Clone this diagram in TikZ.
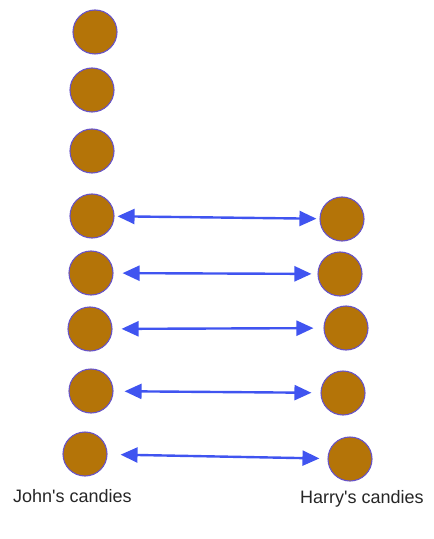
\documentclass[tikz,border=0pt]{standalone}
\usepackage{fontspec}
\setmainfont{Liberation Sans}
\usetikzlibrary{arrows.meta}
\definecolor{candyfill}{RGB}{180,116,8}
\definecolor{candyedge}{RGB}{104,84,200}
\definecolor{linkblue}{RGB}{64,84,240}
\tikzset{
  candy/.style={circle, fill=candyfill, draw=candyedge, line width=1.1bp,
    minimum size=44bp, inner sep=0pt},
  link/.style={draw=linkblue, line width=2.4bp,
    {Triangle[length=17bp,width=15bp]}-{Triangle[length=17bp,width=15bp]}},
  caption/.style={font=\fontsize{18bp}{20bp}\selectfont, text=black!85, inner sep=0pt}
}
\begin{document}
\begin{tikzpicture}[x=1bp, y=-1bp]
\useasboundingbox (0,0) rectangle (434,539);
% John's column
\node[candy] (l1) at (95,32) {};
\node[candy] (l2) at (92,90) {};
\node[candy] (l3) at (92,151) {};
\node[candy] (l4) at (92,216) {};
\node[candy] (l5) at (91,273) {};
\node[candy] (l6) at (90,329) {};
\node[candy] (l7) at (91,391) {};
\node[candy] (l8) at (85,454) {};
% Harry's column
\node[candy] (r4) at (342,219) {};
\node[candy] (r5) at (340,274) {};
\node[candy] (r6) at (346,328) {};
\node[candy] (r7) at (343,393) {};
\node[candy] (r8) at (350,459) {};
% pairings
\draw[link, shorten <=3bp, shorten >=3bp] (l4) -- (r4);
\draw[link, shorten <=9bp, shorten >=6bp] (l5) -- (r5);
\draw[link, shorten <=9bp, shorten >=10bp] (l6) -- (r6);
\draw[link, shorten <=11bp, shorten >=9bp] (l7) -- (r7);
\draw[link, shorten <=13bp, shorten >=8bp] (l8) -- (r8);
% captions
\node[caption, anchor=west] (john) at (13,496) {John\textquotesingle s candies};
\node[caption, anchor=west] (harry) at (300,499) {Harry\textquotesingle s candies};
\end{tikzpicture}
\end{document}
